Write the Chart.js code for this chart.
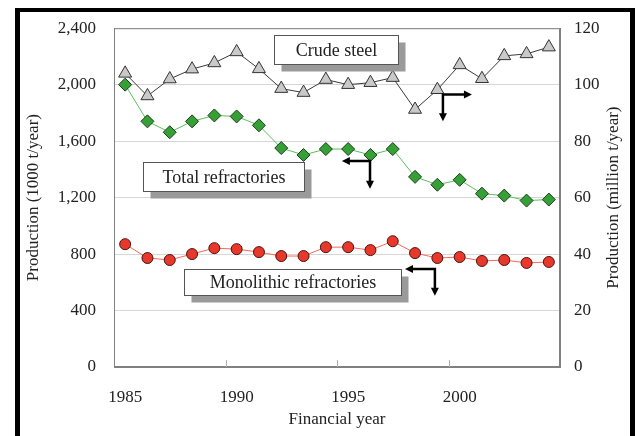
<!DOCTYPE html>
<html><head><meta charset="utf-8">
<script src="https://cdn.jsdelivr.net/npm/chart.js@4/dist/chart.umd.min.js"></script>
<style>html,body{margin:0;padding:0;background:#fff;}#wrap{width:635px;height:436px;}</style>
</head><body><div id="wrap"><canvas id="c" width="635" height="436"></canvas></div>
<script>
const years = ['1985','1986','1987','1988','1989','1990','1991','1992','1993','1994','1995','1996','1997','1998','1999','2000','2001','2002','2003','2004'];
const crudeSteel = [104,96,102,105.5,107.7,111.6,105.6,98.6,97.2,101.8,100,100.7,102.5,91.2,98.2,107,102.1,110.2,110.9,113.3];
const totalRefractories = [2000,1740,1663,1740,1782,1775,1712,1551,1502,1544,1544,1502,1544,1347,1291,1326,1228,1214,1179,1186];
const monolithicRefractories = [870,772,758,800,842,835,814,786,786,849,849,828,891,807,772,779,751,758,737,744];
const xTickLabels = ['1985','1990','1995','2000'];
const leftTicks = [0,400,800,1200,1600,2000,2400];
const rightTicks = [0,20,40,60,80,100,120];
const rightTitle = 'Production (million t/year)';

const FONT = {family:'"Liberation Serif","Times New Roman",serif', size:17};
const TXT = '#222';

// annotation boxes: x in category index units, y in left-axis units
const labels = [
  {text:'Crude steel', x0:6.67, x1:12.24, y0:2351, y1:2147},
  {text:'Total refractories', x0:0.80, x1:8.02, y0:1453, y1:1249},
  {text:'Monolithic refractories', x0:2.64, x1:12.37, y0:695, y1:512}
];
// bent arrows: corner, horizontal end, vertical end
const arrows = [
  {cx:14.25, cy:1930, hx:15.55, vy:1740},
  {cx:10.98, cy:1460, hx:9.72, vy:1263},
  {cx:13.89, cy:695, hx:12.55, vy:505}
];

function head(ctx, x, y, dx, dy){
  const L=8, W=4;
  ctx.beginPath();
  ctx.moveTo(x, y);
  ctx.lineTo(x - dx*L - dy*W, y - dy*L - dx*W);
  ctx.lineTo(x - dx*L + dy*W, y - dy*L + dx*W);
  ctx.closePath();
  ctx.fill();
}

const decor = {
  id:'decor',
  beforeDatasetsDraw(chart){
    const {ctx, chartArea:a, scales} = chart;
    ctx.save();
    ctx.strokeStyle = '#808080'; ctx.lineWidth = 1;
    ctx.strokeRect(a.left+0.5, a.top+0.5, a.right-a.left-1, a.bottom-a.top-1);
    const xs = scales.x;
    ctx.strokeStyle = '#b0b0b0';
    for (let i = 4; i < years.length-1; i += 5){
      const px = Math.round((xs.getPixelForValue(i)+xs.getPixelForValue(i+1))/2)+0.5;
      ctx.beginPath(); ctx.moveTo(px, a.bottom); ctx.lineTo(px, a.bottom-7); ctx.stroke();
    }
    ctx.restore();
  },
  afterDatasetsDraw(chart){
    const {ctx, scales} = chart;
    const xs = scales.x, ys = scales.y;
    const step = xs.getPixelForValue(1) - xs.getPixelForValue(0);
    const X = v => xs.getPixelForValue(0) + v*step;
    const Y = v => ys.getPixelForValue(v);
    ctx.save();
    labels.forEach(l => {
      const x0 = Math.round(X(l.x0))+0.5, x1 = Math.round(X(l.x1))+0.5;
      const y0 = Math.round(Y(l.y0))+0.5, y1 = Math.round(Y(l.y1))+0.5;
      ctx.fillStyle = '#9a9a9a';
      ctx.fillRect(x0+7, y0+7, x1-x0, y1-y0);
      ctx.fillStyle = '#fff';
      ctx.fillRect(x0, y0, x1-x0, y1-y0);
      ctx.strokeStyle = '#555'; ctx.lineWidth = 1;
      ctx.strokeRect(x0, y0, x1-x0, y1-y0);
      ctx.fillStyle = TXT;
      ctx.font = '18px "Liberation Serif","Times New Roman",serif';
      ctx.textAlign = 'center'; ctx.textBaseline = 'middle';
      ctx.fillText(l.text, (x0+x1)/2, (y0+y1)/2+1);
    });
    ctx.strokeStyle = '#000'; ctx.fillStyle = '#000'; ctx.lineWidth = 2.5;
    arrows.forEach(r => {
      const cx = X(r.cx), cy = Y(r.cy), hx = X(r.hx), vy = Y(r.vy);
      const dx = Math.sign(hx - cx);
      ctx.beginPath();
      ctx.moveTo(hx - dx*6, cy); ctx.lineTo(cx, cy); ctx.lineTo(cx, vy - 6);
      ctx.stroke();
      head(ctx, hx, cy, dx, 0);
      head(ctx, cx, vy, 0, 1);
    });
    ctx.restore();
  },
  afterDraw(chart){
    const {ctx, chartArea:a, scales} = chart;
    ctx.save();
    // right axis title, reading bottom-to-top like the left one
    ctx.fillStyle = TXT;
    ctx.font = '17px "Liberation Serif","Times New Roman",serif';
    ctx.textAlign = 'center'; ctx.textBaseline = 'middle';
    ctx.translate(scales.y2.right - 21, (a.top + a.bottom)/2);
    ctx.rotate(-Math.PI/2);
    ctx.fillText(rightTitle, 0, 0);
    ctx.restore();
    ctx.save();
    ctx.fillStyle = '#000';
    ctx.fillRect(15, 8, 5, 436);
    ctx.fillRect(15, 8, 620, 4);
    ctx.fillRect(630, 8, 5, 436);
    ctx.restore();
  }
};

new Chart(document.getElementById('c'), {
  type:'line',
  data:{
    labels: years,
    datasets:[
      {label:'Crude steel', data:crudeSteel, yAxisID:'y2', borderColor:'#3a3a3a', borderWidth:1,
       pointStyle:'triangle', pointRadius:7.5, pointBackgroundColor:'#c9c9c9', pointBorderColor:'#333', pointBorderWidth:1, tension:0},
      {label:'Total refractories', data:totalRefractories, yAxisID:'y', borderColor:'#5cbf5c', borderWidth:1,
       pointStyle:'rectRot', pointRadius:6.5, pointBackgroundColor:'#35a035', pointBorderColor:'#1d3d1d', pointBorderWidth:1, tension:0},
      {label:'Monolithic refractories', data:monolithicRefractories, yAxisID:'y', borderColor:'#f26a5a', borderWidth:1,
       pointStyle:'circle', pointRadius:5.5, pointBackgroundColor:'#e8382b', pointBorderColor:'#4a1410', pointBorderWidth:1, tension:0}
    ]
  },
  options:{
    responsive:false, animation:false, devicePixelRatio:1,
    layout:{padding:{top:25,left:0,right:0,bottom:0}},
    plugins:{legend:{display:false}, tooltip:{enabled:false}},
    scales:{
      x:{type:'category', offset:true,
        grid:{display:false, drawTicks:false},
        border:{display:true, color:'#808080', width:1},
        ticks:{autoSkip:false, maxRotation:0, minRotation:0, padding:20, color:TXT, font:FONT,
          callback:(v,i)=> xTickLabels.includes(years[i]) ? years[i] : ''},
        title:{display:true, text:'Financial year', color:TXT, font:FONT, padding:{top:0,bottom:6}},
        afterFit:s=>{s.height=69;}
      },
      y:{position:'left', min:0, max:2400,
        afterBuildTicks:s=>{s.ticks = leftTicks.map(v=>({value:v}));},
        ticks:{padding:18, color:TXT, font:FONT, callback:v=>v.toLocaleString('en-US')},
        grid:{color:'#d6d6d6', lineWidth:1, drawTicks:false},
        border:{color:'#808080', width:1},
        title:{display:true, text:'Production (1000 t/year)', color:TXT, font:FONT, padding:{top:23,bottom:0}},
        afterFit:s=>{s.width=114;}
      },
      y2:{position:'right', min:0, max:120,
        afterBuildTicks:s=>{s.ticks = rightTicks.map(v=>({value:v}));},
        ticks:{padding:14, color:TXT, font:FONT},
        grid:{drawOnChartArea:false, drawTicks:false},
        border:{color:'#808080', width:1},
        title:{display:false},
        afterFit:s=>{s.width=75;}
      }
    }
  },
  plugins:[decor]
});
</script></body></html>
